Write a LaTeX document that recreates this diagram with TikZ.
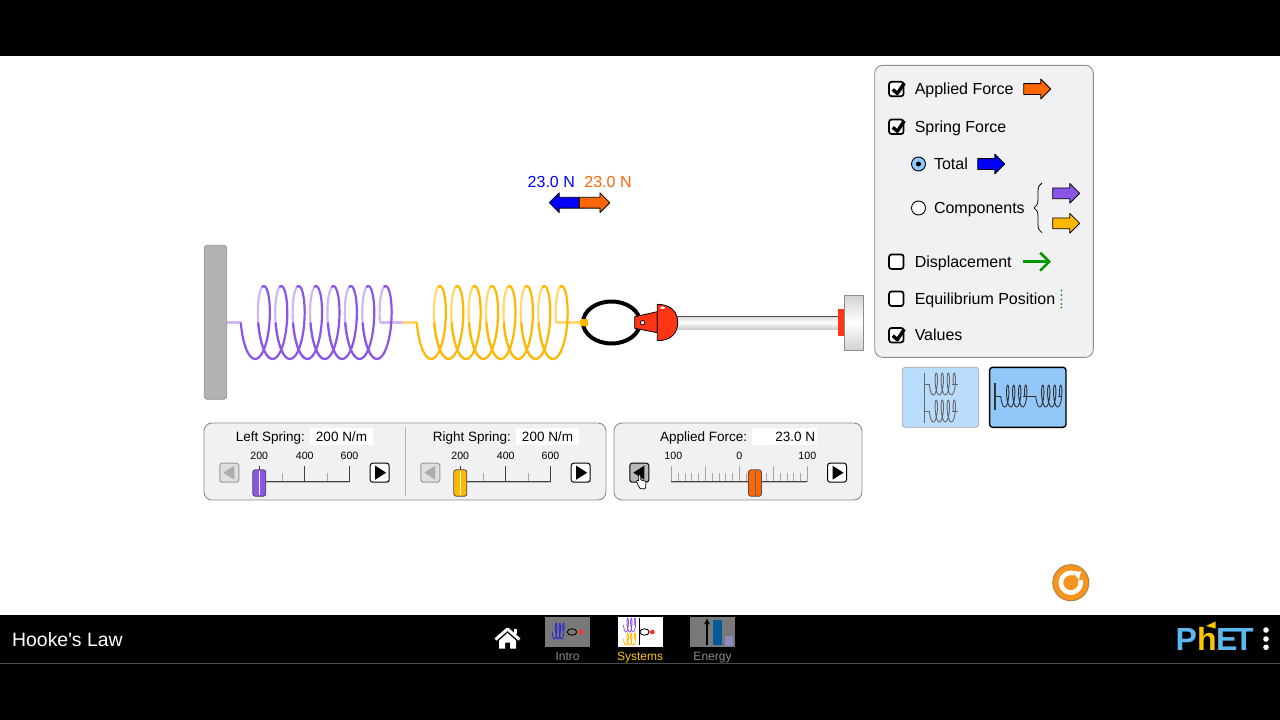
\documentclass[tikz,border=0pt]{standalone}
\usepackage{fontspec}
\setmainfont{Liberation Sans}
\usepackage{xcolor}
\usetikzlibrary{arrows.meta,positioning,shapes,decorations.pathreplacing}
\definecolor{leftcoil}{HTML}{8B55E8}
\definecolor{leftback}{HTML}{D0B8F5}
\definecolor{rightcoil}{HTML}{FFB700}
\definecolor{rightback}{HTML}{FFD870}
\definecolor{forceorange}{HTML}{FF6600}
\definecolor{totalblue}{HTML}{0000FF}
\definecolor{handred}{HTML}{FF3516}
\definecolor{panelgray}{HTML}{F1F1F4}
\definecolor{panelline}{HTML}{8C8C8C}
\definecolor{phetblue}{HTML}{5CB8F0}
\definecolor{phetyellow}{HTML}{FDC500}
\definecolor{btnpale}{HTML}{BBDDFD}
\definecolor{btnblue}{HTML}{92C7FA}
\definecolor{resetorange}{HTML}{F7941D}
\definecolor{resetedge}{HTML}{B9803C}

\begin{document}
\begin{tikzpicture}[x=1pt,y=-1pt,line join=round]
	\tikzstyle{panel}
	  =[draw=panelline, fill=panelgray, rectangle, rounded corners=8pt,
	  line width=0.9pt, inner sep=0pt, outer sep=0pt]
	\tikzstyle{checkbox}
	  =[draw, fill=white, rectangle, rounded corners=2.5pt, line width=1.7pt,
	  minimum size=14.5pt, inner sep=0pt, outer sep=0pt]
	\tikzstyle{radio}
	  =[draw, fill=white, circle, line width=0.9pt,
	  minimum size=14pt, inner sep=0pt, outer sep=0pt]
	\tikzstyle{itemlabel}
	  =[inner sep=0pt, outer sep=0pt, text height=14.5pt, text depth=3pt,
	  font=\fontsize{16}{18}\selectfont]
	\tikzstyle{forcearrow}
	  =[draw, single arrow, inner sep=0pt, outer sep=0pt, line width=0.8pt,
	  minimum height=27pt, text height=10pt, text depth=0pt, text width=0pt,
	  single arrow head extend=4.5pt, single arrow head indent=0pt, anchor=tail]
	\tikzstyle{valuelabel}
	  =[inner sep=0pt, anchor=base, font=\fontsize{16}{18}\selectfont]
	\tikzstyle{sliderlabel}
	  =[inner sep=0pt, outer sep=0pt, text height=12.6pt, text depth=3pt,
	  font=\fontsize{13.5}{15}\selectfont]
	\tikzstyle{valuebox}
	  =[fill=white, rectangle, inner sep=0pt, outer sep=0pt, minimum height=17pt,
	  text height=9.6pt, text depth=0pt, font=\fontsize{13.5}{15}\selectfont]
	\tikzstyle{ticklabel}
	  =[inner sep=0pt, anchor=base, font=\fontsize{10.6}{12}\selectfont]
	\tikzstyle{thumb}
	  =[draw=black!70, rectangle, rounded corners=2.5pt, line width=0.8pt,
	  minimum width=13pt, minimum height=26.5pt, inner sep=0pt]
	\tikzstyle{stepbtn}
	  =[draw, fill=white, rectangle, rounded corners=2.5pt, line width=1pt,
	  minimum width=19pt, minimum height=19pt, inner sep=0pt, outer sep=0pt]
	\tikzstyle{stepbtn-off}
	  =[stepbtn, draw=gray!80, fill=gray!25]
	\tikzstyle{track}
	  =[draw=black!75, line width=1pt, double=gray!50, double distance=0.6pt]
	\tikzstyle{bigtick}
	  =[draw=black!75, line width=0.7pt]
	\tikzstyle{smalltick}
	  =[draw=gray!70, line width=0.7pt]
	\tikzstyle{tablabel}
	  =[inner sep=0pt, anchor=base, font=\fontsize{12}{14}\selectfont]
	\tikzstyle{tabicon}
	  =[rectangle, minimum width=45pt, minimum height=30pt, inner sep=0pt]
	\tikzstyle{phetletter}
	  =[inner sep=0pt, anchor=base west, text=phetblue,
	  font=\fontsize{32}{34}\selectfont\bfseries]
	\tikzstyle{wire}
	  =[line width=2.2pt]

	\useasboundingbox (0,0) rectangle (1280,720);
	\fill[white] (0,0) rectangle (1280,720);
	\fill[black] (0,0) rectangle (1280,56);
	\fill[black] (0,615) rectangle (1280,720);
	\draw[gray!60!black, line width=0.8pt] (0,663.3) -- (1280,663.3);

	\node[draw=gray!85, fill=gray!60, rectangle, rounded corners=3pt, line width=0.8pt,
	  minimum width=22.4pt, minimum height=154pt, inner sep=0pt, outer sep=0pt] (wall)
	  at (215.5,322.3) {};

	\draw[wire,leftback] (wall.east |- 0,322.5) -- (241,322.5);
	\draw[wire,leftback] (380,322.5) -- (403,322.5);
	\draw[wire,rightback] (403,322.5) -- (417,322.5);
	\draw[wire,rightback] (556,322.5) -- (580,322.5);
	\foreach \sx/\sback in {250.8/leftback,426.8/rightback}
	  \foreach \tfrom/\tto in {270/450,630/810,990/1170,1350/1530,1710/1890,2070/2250,2430/2610,2790/2880}
	    \draw[wire,\sback] plot[domain=\tfrom:\tto,samples=20,variable=\t]
	      ({\sx+\t/360*17.4-10*cos(\t)},{322.5+36.5*sin(\t)});
	\foreach \sx/\sfront in {250.8/leftcoil,426.8/rightcoil}
	  \foreach \i in {0,...,7}
	    \draw[wire,\sfront] plot[domain=360*\i:285+360*\i,samples=30,variable=\t]
	      ({\sx+\t/360*17.4-10*cos(\t)},{322.5+36.5*sin(\t)});

	\draw[line width=4pt] (611.5,322.5) ellipse [x radius=28.5pt, y radius=21pt];
	\node[fill=rightcoil, rectangle, rounded corners=1pt, minimum width=8pt,
	  minimum height=7pt, inner sep=0pt] (hookpin) at (584,322.5) {};
	\draw[fill=handred, line width=0.8pt] (634.7,316.7) -- (657.3,311.7) -- (657.3,332.7)
	  -- (634.7,328.3) -- cycle;
	\node[draw, fill=white, circle, minimum size=4.5pt, inner sep=0pt, line width=0.8pt]
	  (handpin) at (642.7,322.7) {};
	\node[top color=gray!30, bottom color=gray!40, middle color=white, rectangle,
	  minimum width=161pt, minimum height=13pt, inner sep=0pt, outer sep=0pt] (rod)
	  at (757.7,322.5) {};
	\draw[black!70, line width=0.8pt] (rod.north west) -- (rod.north east);
	\draw[fill=handred, line width=0.8pt] (657.3,304.3) .. controls (672,304.3) and (677.7,313)
	  .. (677.7,322.5) .. controls (677.7,332) and (672,340.7) .. (657.3,340.7) -- cycle;
	\fill[white] (662.7,307.7) ellipse [x radius=2.5pt, y radius=1.2pt];
	\node[fill=handred, rectangle, minimum width=6pt, minimum height=27pt, inner sep=0pt,
	  outer sep=0pt] (rodcap) at (841.3,322.5) {};
	\node[draw=gray!90, top color=gray!35, bottom color=gray!35, middle color=white, rectangle,
	  minimum width=18.7pt, minimum height=54.7pt, inner sep=0pt, outer sep=0pt] (rodend)
	  [right=0pt of rodcap] {};

	\coordinate (forcemid) at (579.3,202.7);
	\node[forcearrow,fill=totalblue,shape border rotate=180,minimum height=30pt] (totalforce)
	  at (forcemid) {};
	\node[forcearrow,fill=forceorange,minimum height=30.5pt] (appliedforce)
	  at (forcemid) {};
	\node[valuelabel,text=totalblue] (totalvalue) at (551.3,187.5) {23.0 N};
	\node[valuelabel,text=forceorange] (appliedvalue) at (608,187.5) {23.0 N};

	\node[panel,minimum width=218.6pt,minimum height=292pt] (controlpanel) at (984,211.3) {};
	\node[checkbox] (appliedbox) at (896.3,89) {};
	\node[itemlabel] (appliedlabel)
	  [right=11.2pt of appliedbox] {Applied Force};
	\node[checkbox] (springbox)
	  [below=23.3pt of appliedbox] {};
	\node[itemlabel] (springlabel)
	  [right=11.2pt of springbox] {Spring Force};
	\node[radio,fill=btnblue] (totalradio) at (918.5,164) {};
	\fill (totalradio) circle (2.5pt);
	\node[itemlabel] (totallabel)
	  [right=8.5pt of totalradio] {Total};
	\node[radio] (componentsradio)
	  [below=30pt of totalradio] {};
	\node[itemlabel] (componentslabel)
	  [right=8.5pt of componentsradio] {Components};
	\node[checkbox] (displacementbox) at (896.3,261.7) {};
	\node[itemlabel] (displacementlabel)
	  [right=11.2pt of displacementbox] {Displacement};
	\node[checkbox] (equilibriumbox)
	  [below=22.5pt of displacementbox] {};
	\node[itemlabel] (equilibriumlabel)
	  [right=11.2pt of equilibriumbox] {Equilibrium Position};
	\node[checkbox] (valuesbox)
	  [below=22pt of equilibriumbox] {};
	\node[itemlabel] (valueslabel)
	  [right=11.2pt of valuesbox] {Values};
	\foreach \boxname in {appliedbox,springbox,valuesbox}
	  \draw[line width=3.4pt] ([shift={(-3.5,0.5)}]\boxname.center) -- ([shift={(1,4.5)}]\boxname.center)
	    -- ([shift={(8,-6)}]\boxname.center);

	\node[forcearrow,fill=forceorange] (appliedkey) at (1023.7,89) {};
	\node[forcearrow,fill=totalblue] (totalkey) at (977.7,164) {};
	\node[forcearrow,fill=leftcoil] (leftkey) at (1052.7,193.3) {};
	\node[forcearrow,fill=rightcoil] (rightkey) at (1052.7,223.3) {};
	\draw[decorate,decoration={brace,amplitude=8pt},line width=0.8pt]
	  (1042,232.7) -- (1042,183);
	\coordinate (dispstart) at (1022.7,261.7);
	\coordinate (dispend) at (1051,261.7);
	\draw[green!60!black, line width=2.6pt, -{Straight Barb[length=9pt,width=18pt,line width=2.6pt]}]
	  (dispstart) -- (dispend);
	\foreach \y in {290.5,295,299.5,304,307.5}
	  \fill[green!60!black] (1061.3,\y) circle (1pt);

	\node[draw=gray!70, fill=btnpale, rectangle, rounded corners=3pt, line width=0.8pt,
	  minimum width=76.4pt, minimum height=60pt, inner sep=0pt] (parallelbtn) at (940.5,397.3) {};
	\node[draw, fill=btnblue, rectangle, rounded corners=3pt, line width=1.4pt,
	  minimum width=76.4pt, minimum height=60pt, inner sep=0pt] (seriesbtn) at (1027.8,397.3) {};
	\draw[gray!80!black, line width=1pt] (924,372.7) -- (924,422.7);
	\draw[black!80, line width=1.4pt] (995,383) -- (995,410);
	\foreach \sx/\sy/\scol/\sstart/\send in {931.8/384/gray!80!black/924/958,
	  931.8/411/gray!80!black/924/958,1003.2/396/black!80/995/1034,1038.2/396/black!80/1030/1061}{
	  \draw[\scol, line width=0.9pt] (\sstart,\sy) -- ({\sx-2.5},\sy);
	  \draw[\scol, line width=0.9pt] ({\sx+20},\sy) -- (\send,\sy);
	  \draw[\scol, line width=0.9pt] plot[domain=0:1440,samples=90,variable=\t]
	    ({\sx+\t/360*6-2.5*cos(\t)},{\sy+11*sin(\t)});
	}

	\node[panel,minimum width=402pt,minimum height=77pt] (springpanel) at (405,461.5) {};
	\node[panel,minimum width=248pt,minimum height=77pt] (forcepanel)
	  [right=8pt of springpanel] {};
	\draw[gray!60, line width=0.7pt] (405.7,427) -- (405.7,496);

	\foreach \sname/\slabel/\sx/\scol/\vx/\vw in {left/Left Spring:/259.3/leftcoil/341.5/63,
	  right/Right Spring:/460.3/rightcoil/547.5/63}{
	  \node[valuebox,minimum width=\vw pt] (\sname-value) at (\vx,436.3) {200 N/m};
	  \node[sliderlabel] (\sname-label)
	    [left=5pt of \sname-value] {\slabel};
	  \node[ticklabel] (\sname-200) at (\sx,459) {200};
	  \node[ticklabel] (\sname-400) at ({\sx+45.4},459) {400};
	  \node[ticklabel] (\sname-600) at ({\sx+90.2},459) {600};
	  \foreach \dx in {22.7,68}
	    \draw[smalltick] ({\sx+\dx},473) -- ({\sx+\dx},482);
	  \foreach \dx in {0,45.4,90.2}
	    \draw[bigtick] ({\sx+\dx},466) -- ({\sx+\dx},482);
	  \draw[track] (\sx,482) -- ({\sx+90.2},482);
	  \node[thumb,fill=\scol] (\sname-thumb) at (\sx,483) {};
	  \draw[white, line width=0.7pt] ([yshift=-2pt]\sname-thumb.north) -- ([yshift=2pt]\sname-thumb.south);
	  \node[stepbtn-off] (\sname-minus) at ({\sx-30},472.7) {};
	  \fill[gray!65] ([xshift=-6pt]\sname-minus.center) -- ++(11,-7) -- ++(0,14) -- cycle;
	  \node[stepbtn] (\sname-plus) at ({\sx+120.4},472.7) {};
	  \fill[black] ([xshift=6.5pt]\sname-plus.center) -- ++(-11,-7) -- ++(0,14) -- cycle;
	}

	\node[valuebox,minimum width=65pt] (force-value) at (784.2,436.3) {\hspace*{22pt}23.0 N};
	\node[sliderlabel] (force-label)
	  [left=4.5pt of force-value] {Applied Force:};
	\node[ticklabel] (force-min) at (673.3,459) {100};
	\node[ticklabel] (force-zero) at (739.3,459) {0};
	\node[ticklabel] (force-max) at (807.3,459) {100};
	\foreach \tx in {678.1,684.9,691.7,698.5,712.1,718.9,725.7,732.5,746.1,752.9,759.7,766.5,780.1,786.9,793.7,800.5}
	  \draw[smalltick] (\tx,473) -- (\tx,482);
	\foreach \tx in {671.3,705.3,739.3,773.3,807.3}
	  \draw[smalltick] (\tx,466) -- (\tx,482);
	\draw[track] (671.3,482) -- (807.3,482);
	\node[thumb,fill=forceorange] (force-thumb) at (755,483) {};
	\draw[black!60, line width=0.7pt] ([yshift=-1pt]force-thumb.north) -- ([yshift=1pt]force-thumb.south);
	\node[stepbtn,fill=gray!55] (force-minus) at (639.3,472.7) {};
	\fill[black] ([xshift=-6pt]force-minus.center) -- ++(11,-7) -- ++(0,14) -- cycle;
	\node[stepbtn] (force-plus) at (837,472.7) {};
	\fill[black] ([xshift=6.5pt]force-plus.center) -- ++(-11,-7) -- ++(0,14) -- cycle;
	\draw[fill=white, rounded corners=0.8pt, line width=0.7pt] (638.8,474.5) -- (638.8,481) -- (636.7,480)
	  -- (637,483) -- (640,488.7) -- (645.5,488.7) -- (646,481.5) -- (644,480.7) -- (640.7,480)
	  -- (640.7,474.5) -- cycle;

	\node[draw=resetedge, fill=resetorange, circle, line width=1pt,
	  minimum size=36pt, inner sep=0pt] (resetbtn) at (1070.8,582.7) {};
	\draw[white, line width=4.6pt] plot[domain=-15:290,samples=40,variable=\t]
	  ({1070.8+9.8*cos(\t)},{582.7+9.8*sin(\t)});
	\fill[white] (1072,571) -- (1081,571.5) -- (1079,580) -- cycle;

	\node[inner sep=0pt, anchor=base west, text=white, font=\fontsize{19.4}{21}\selectfont] (simtitle)
	  at (12,646) {Hooke\textquotesingle s Law};
	\draw[white, line width=3pt] (495.5,639.5) -- (507.5,629) -- (519.5,639.5);
	\fill[white] (513.5,628.5) rectangle (517,634);
	\fill[white] (499,640.5) -- (507.5,633) -- (516,640.5) -- (516,648.5) -- (510,648.5) -- (510,642.5)
	  -- (505,642.5) -- (505,648.5) -- (499,648.5) -- cycle;

	\node[tabicon,fill=gray!95!black] (introicon) at (567.5,631.7) {};
	\node[tabicon,fill=white] (systemsicon) at (640,631.7) {};
	\node[tabicon,fill=gray!95!black] (energyicon) at (712.5,631.7) {};
	\node[tablabel,text=gray!90] (introlabel) at (567.5,660) {Intro};
	\node[tablabel,text=phetyellow] (systemslabel) at (640,660) {Systems};
	\node[tablabel,text=gray!90] (energylabel) at (712.5,660) {Energy};
	\foreach \sx/\sy/\scol/\sb in {553.5/631/blue!70!gray/8,625/625/leftcoil/7,625/639/rightcoil/6}
	  \draw[\scol, line width=0.8pt] plot[domain=0:1080,samples=70,variable=\t]
	    ({\sx+\t/360*3.6-1.5*cos(\t)},{\sy+\sb*sin(\t)});
	\draw[black, line width=0.8pt] (639.3,618) -- (639.3,645);
	\foreach \hx/\dx in {572/581,644.5/652.3}{
	  \draw[black, line width=0.9pt] (\hx,632) ellipse [x radius=4.7pt, y radius=3.2pt];
	  \fill[handred] (\dx,632) circle (2.4pt);
	}
	\fill[blue!40!cyan!60!black] (713,620) rectangle (721.7,645);
	\fill[blue!30!gray!70] (725,636) rectangle (733,646);
	\coordinate (energytail) at (707,645);
	\coordinate (energytip) at (707,618.5);
	\draw[black, line width=1.2pt, -{Stealth[length=6pt,width=6pt]}] (energytail) -- (energytip);

	\node[phetletter] (phetp) at (1175.5,650.7) {P};
	\node[phetletter,text=phetyellow] (pheth) at (1197,650.7) {h};
	\node[phetletter] (phete) at (1216,650.7) {E};
	\node[phetletter] (phett) at (1234,650.7) {T};
	\fill[phetyellow] (1206,626) -- (1215.5,621.5) -- (1215.5,628.5) -- cycle;
	\foreach \y in {630,639,647.3}
	  \fill[white] (1266,\y) circle (2.8pt);
\end{tikzpicture}
\end{document}
